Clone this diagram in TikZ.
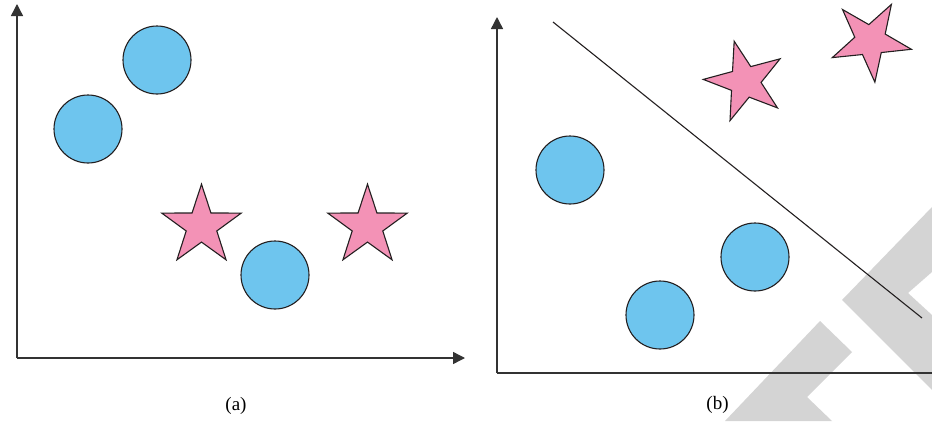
\documentclass[tikz,border=0pt]{standalone}
\usepackage{amsmath,amssymb}
\usepackage{fontspec}
\setmainfont{Liberation Serif}
\usepackage{tikz}
\usepackage{xcolor}
\usetikzlibrary{shapes.geometric,arrows.meta}
\definecolor{dotblue}{HTML}{6EC5EE}
\definecolor{starpink}{HTML}{F392B6}
\definecolor{inkline}{HTML}{231F20}
\definecolor{markgray}{HTML}{D4D4D4}
\tikzset{
  dot/.style={circle,draw=inkline,line width=1.1pt,fill=dotblue,minimum size=68pt,inner sep=0pt},
  starry/.style={star,star points=5,star point ratio=2.6,draw=inkline,line width=1.1pt,fill=starpink,minimum size=83.6pt,inner sep=0pt},
  axis/.style={draw=black!80,line width=1.4pt,-{Triangle[length=12pt,width=12pt]}},
  caption/.style={font=\fontsize{19}{22}\selectfont},
}

\begin{document}
\begin{tikzpicture}[x=1pt,y=-1pt]
			\useasboundingbox (0,0) rectangle (932,421);
			% watermark
			\fill[markgray] (725,421) -- (820,321) -- (852,352) -- (807,397) -- (832,421) -- cycle;
			\fill[markgray] (932,207) -- (842,300) -- (932,390) -- (932,315) -- (908,293) -- (932,272) -- cycle;
			% (a)
			\coordinate (oa) at (17,358);
			\coordinate (ya) at (17,4);
			\coordinate (xa) at (465,358);
			\draw[axis] (oa) -- (ya); \draw[axis] (oa) -- (xa);
			\node[dot] (c1) at (157,60) {};
			\node[dot] (c2) at (88,129) {};
			\node[dot] (c3) at (275,275) {};
			\node[starry] (s1) at (201.5,226) {};
			\node[starry] (s2) at (367.5,226) {};
			\node[caption] (la) at (236,406) {(a)};
			% (b)
			\coordinate (ob) at (497,373);
			\coordinate (yb) at (497,17);
			\coordinate (xb) at (932,373);
			\draw[axis] (ob) -- (yb); \draw[draw=black!80,line width=1.4pt] (ob) -- (xb);
			\coordinate (p) at (553,22);
			\coordinate (q) at (922,318);
			\draw[inkline,line width=1.1pt] (p) -- (q);
			\node[dot] (c4) at (570,170) {};
			\node[dot] (c5) at (755,257) {};
			\node[dot] (c6) at (660,315) {};
			\node[starry,rotate=15] (s3) at (745,81.6) {};
			\node[starry,rotate=42] (s4) at (870.5,40.6) {};
			\node[caption] (lb) at (717.5,405) {(b)};
		\end{tikzpicture}
\end{document}
